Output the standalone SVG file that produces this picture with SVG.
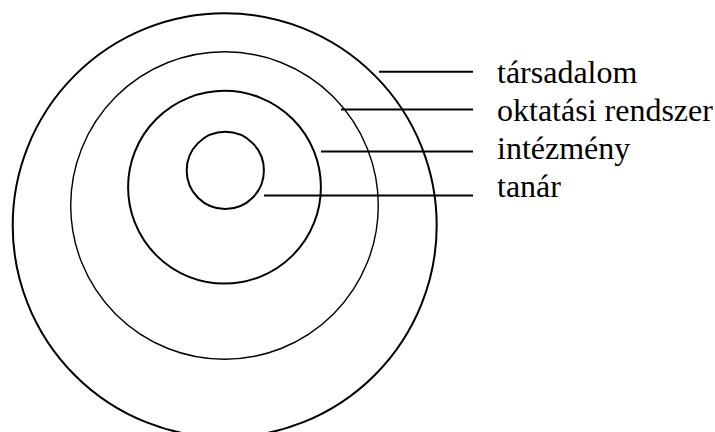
<svg xmlns="http://www.w3.org/2000/svg" width="715" height="432" viewBox="0 0 715 432">
<style>
.ring{fill:none;stroke:#000;stroke-width:2}
.thin{stroke-width:1.4}
.lead{stroke:#000;stroke-width:2}
.lbl{font-family:"Times New Roman","Liberation Serif","DejaVu Serif",serif;font-size:32px;fill:#000}
</style>
<rect width="715" height="432" fill="#fff"/>
<g id="tarsadalom"><circle class="ring" cx="224.7" cy="225.3" r="212"/><text class="lbl" x="497" y="83">társadalom</text></g>
<g id="oktatasi-rendszer"><circle class="ring thin" cx="224.5" cy="205.5" r="153.8"/><text class="lbl" x="497" y="121">oktatási rendszer</text></g>
<g id="intezmeny"><circle class="ring" cx="224.5" cy="187.2" r="96.4"/><text class="lbl" x="497" y="159">intézmény</text></g>
<g id="tanar"><circle class="ring" cx="225.3" cy="170.4" r="38.6"/><text class="lbl" x="497" y="197">tanár</text></g>
<g id="connectors">
<line class="lead" x1="379" y1="71.7" x2="473" y2="71.7"/>
<line class="lead" x1="341" y1="109.5" x2="473" y2="109.5"/>
<line class="lead" x1="321" y1="151.6" x2="473" y2="151.6"/>
<line class="lead" x1="264" y1="195.5" x2="473" y2="195.5"/>
</g>
</svg>
